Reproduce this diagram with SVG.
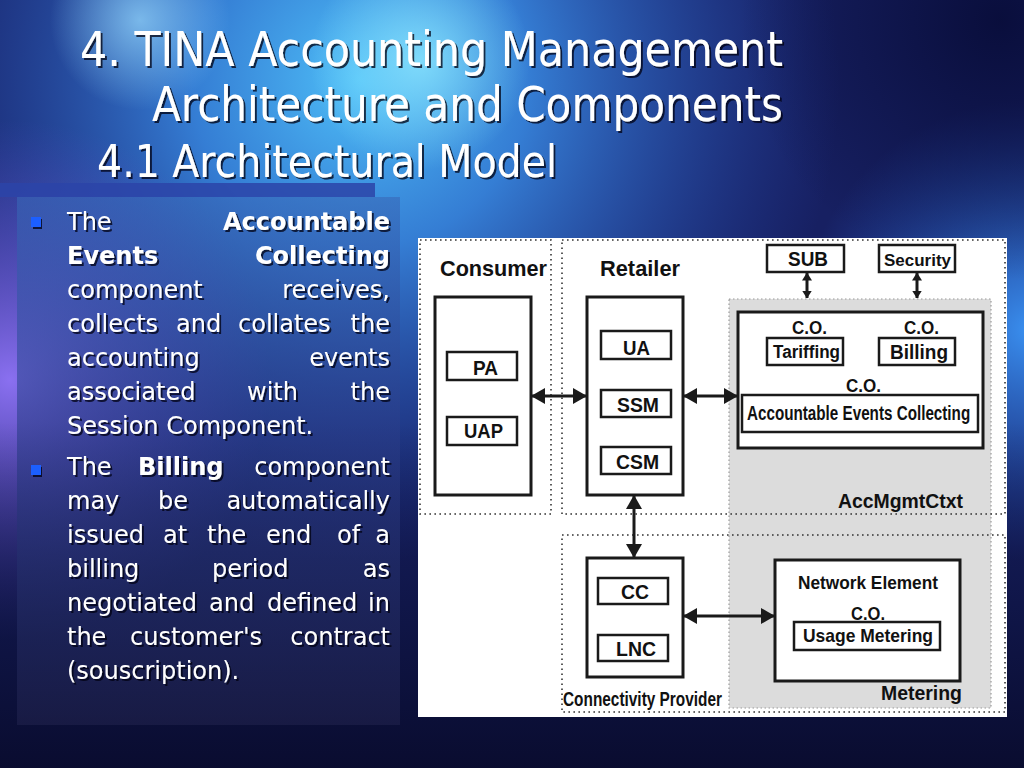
<svg xmlns="http://www.w3.org/2000/svg" width="1024" height="768" viewBox="0 0 1024 768">
<defs>
<radialGradient id="gTitle" cx="360" cy="80" r="480" gradientUnits="userSpaceOnUse">
<stop offset="0" stop-color="#4fc0f8"/>
<stop offset="0.35" stop-color="#3a8ee8" stop-opacity="0.85"/>
<stop offset="1" stop-color="#2a50c0" stop-opacity="0"/>
</radialGradient>
<radialGradient id="gLeft" cx="10" cy="380" r="260" gradientUnits="userSpaceOnUse">
<stop offset="0" stop-color="#8a70f0"/>
<stop offset="1" stop-color="#6050d0" stop-opacity="0"/>
</radialGradient>
<radialGradient id="gRight" cx="1030" cy="330" r="230" gradientUnits="userSpaceOnUse">
<stop offset="0" stop-color="#3a90f0"/>
<stop offset="1" stop-color="#2a60d0" stop-opacity="0"/>
</radialGradient>
<radialGradient id="gDarkTR" cx="1000" cy="20" r="260" gradientUnits="userSpaceOnUse">
<stop offset="0" stop-color="#080c38" stop-opacity="0.9"/>
<stop offset="1" stop-color="#080c38" stop-opacity="0"/>
</radialGradient>
<radialGradient id="gCyan" cx="420" cy="60" r="110" gradientUnits="userSpaceOnUse">
<stop offset="0" stop-color="#8ee8ff" stop-opacity="0.8"/>
<stop offset="1" stop-color="#8ee8ff" stop-opacity="0"/>
</radialGradient>
<radialGradient id="gCyan2" cx="140" cy="20" r="90" gradientUnits="userSpaceOnUse">
<stop offset="0" stop-color="#9adcff" stop-opacity="0.7"/>
<stop offset="1" stop-color="#9adcff" stop-opacity="0"/>
</radialGradient>
<linearGradient id="gBottom" x1="0" y1="0" x2="0" y2="1">
<stop offset="0.55" stop-color="#080c30" stop-opacity="0"/>
<stop offset="1" stop-color="#080a2a" stop-opacity="0.9"/>
</linearGradient>
<linearGradient id="gPanel" x1="0" y1="0" x2="0" y2="1">
<stop offset="0" stop-color="#3868b8" stop-opacity="0.6"/>
<stop offset="0.45" stop-color="#2a3c88" stop-opacity="0.6"/>
<stop offset="1" stop-color="#1c1e48" stop-opacity="0.75"/>
</linearGradient>
<filter id="ts" x="-5%" y="-20%" width="110%" height="140%">
<feDropShadow dx="2" dy="2" stdDeviation="0.6" flood-color="#000010" flood-opacity="0.75"/>
</filter>
<marker id="ah" viewBox="0 0 14 16" refX="13" refY="8" markerWidth="14" markerHeight="16" markerUnits="userSpaceOnUse" orient="auto-start-reverse">
<path d="M0,0 L14,8 L0,16 z" fill="#1a1a1a"/>
</marker>
<marker id="ahs" viewBox="0 0 8 10" refX="7.5" refY="5" markerWidth="8" markerHeight="10" markerUnits="userSpaceOnUse" orient="auto-start-reverse">
<path d="M0,0 L8,5 L0,10 z" fill="#1a1a1a"/>
</marker>
<style>
.title{font-family:"DejaVu Sans Condensed","DejaVu Sans",sans-serif;fill:#ffffff}
.body{font-family:"DejaVu Sans",Verdana,sans-serif;font-size:24px;fill:#ffffff}
.b{font-weight:bold}
.end{text-anchor:end}
.lbl{font-family:"Liberation Sans Narrow","Liberation Sans",Arial,sans-serif;font-weight:bold;fill:#111111}
.box{fill:#ffffff;stroke:#1a1a1a;stroke-width:2.5}
.big{fill:#ffffff;stroke:#1a1a1a;stroke-width:3}
.dot{fill:none;stroke:#333333;stroke-width:1.6;stroke-dasharray:1.6 3.4}
.conn{fill:none;stroke:#1a1a1a;stroke-width:3}
</style>
</defs>

<!-- background -->
<rect x="0" y="0" width="1024" height="768" fill="#172062"/>
<rect x="0" y="0" width="1024" height="768" fill="url(#gTitle)"/>
<rect x="0" y="0" width="1024" height="768" fill="url(#gLeft)"/>
<rect x="0" y="0" width="1024" height="768" fill="url(#gRight)"/>
<rect x="0" y="0" width="1024" height="768" fill="url(#gDarkTR)"/>
<rect x="0" y="0" width="1024" height="768" fill="url(#gCyan)"/>
<rect x="0" y="0" width="1024" height="768" fill="url(#gCyan2)"/>
<rect x="0" y="0" width="1024" height="768" fill="url(#gBottom)"/>

<!-- title -->
<g id="title" class="title" filter="url(#ts)">
<text x="80" y="66" font-size="48" textLength="703" lengthAdjust="spacingAndGlyphs">4. TINA Accounting Management</text>
<text x="152" y="121" font-size="48" textLength="631" lengthAdjust="spacingAndGlyphs">Architecture and Components</text>
<text x="97" y="177" font-size="44" textLength="460" lengthAdjust="spacingAndGlyphs">4.1 Architectural Model</text>
</g>

<!-- left text panel -->
<rect x="0" y="183" width="375" height="14" fill="#2c44a8" opacity="0.85"/>
<rect x="17" y="197" width="383" height="528" fill="url(#gPanel)"/>

<g id="bullets">
<rect x="31" y="217" width="10" height="10" fill="#1f5fff" filter="url(#ts)"/>
<rect x="31" y="465" width="10" height="10" fill="#1f5fff" filter="url(#ts)"/>
</g>

<g id="body-text" class="body" filter="url(#ts)">
<text x="67" y="230">The</text><text x="390" y="230" class="b end">Accountable</text>
<text x="67" y="264" class="b">Events</text><text x="390" y="264" class="b end">Collecting</text>
<text x="67" y="298">component</text><text x="390" y="298" class="end">receives,</text>
<text x="67" y="332">collects</text><text x="176" y="332">and</text><text x="238" y="332">collates</text><text x="390" y="332" class="end">the</text>
<text x="67" y="366">accounting</text><text x="390" y="366" class="end">events</text>
<text x="67" y="400">associated</text><text x="247" y="400">with</text><text x="390" y="400" class="end">the</text>
<text x="67" y="434">Session Component.</text>

<text x="67" y="475">The</text><text x="138" y="475" class="b">Billing</text><text x="390" y="475" class="end">component</text>
<text x="67" y="509">may</text><text x="158" y="509">be</text><text x="390" y="509" class="end">automatically</text>
<text x="67" y="543">issued</text><text x="163" y="543">at</text><text x="207" y="543">the</text><text x="266" y="543">end</text><text x="337" y="543">of</text><text x="390" y="543" class="end">a</text>
<text x="67" y="577">billing</text><text x="212" y="577">period</text><text x="390" y="577" class="end">as</text>
<text x="67" y="611">negotiated</text><text x="209" y="611">and</text><text x="267" y="611">defined</text><text x="390" y="611" class="end">in</text>
<text x="67" y="645">the</text><text x="130" y="645">customer's</text><text x="390" y="645" class="end">contract</text>
<text x="67" y="679">(souscription).</text>
</g>

<!-- diagram panel -->
<rect x="418" y="238" width="589" height="479" fill="#ffffff"/>

<g id="regions">
<rect id="accmgmtctxt-area" x="729" y="299" width="262" height="409" fill="#dcdcdc" stroke="#9a9a9a" stroke-width="1.2" stroke-dasharray="1.5 2.5"/>
<path class="dot" d="M420,240 H551 V514 H420 Z"/>
<path class="dot" d="M562,240 H1005 V514 H562 Z"/>
<path class="dot" d="M562,535 H1005 V712 H562 Z"/>
</g>

<g id="consumer">
<text class="lbl" x="440" y="276" font-size="22" textLength="107" lengthAdjust="spacingAndGlyphs">Consumer</text>
<rect class="big" x="435" y="297" width="96" height="198"/>
</g>
<g id="pa"><rect class="box" x="447" y="352" width="70" height="28"/><text class="lbl" x="473" y="375" font-size="21" textLength="25" lengthAdjust="spacingAndGlyphs">PA</text></g>
<g id="uap"><rect class="box" x="447" y="417" width="70" height="28"/><text class="lbl" x="464" y="438" font-size="21" textLength="39" lengthAdjust="spacingAndGlyphs">UAP</text></g>

<g id="retailer">
<text class="lbl" x="600" y="276" font-size="22" textLength="80" lengthAdjust="spacingAndGlyphs">Retailer</text>
<rect class="big" x="587" y="297" width="96" height="198"/>
</g>
<g id="ua"><rect class="box" x="601" y="331" width="70" height="28"/><text class="lbl" x="623" y="355" font-size="21" textLength="27" lengthAdjust="spacingAndGlyphs">UA</text></g>
<g id="ssm"><rect class="box" x="601" y="390" width="70" height="27"/><text class="lbl" x="617" y="412" font-size="21" textLength="42" lengthAdjust="spacingAndGlyphs">SSM</text></g>
<g id="csm"><rect class="box" x="601" y="447" width="70" height="27"/><text class="lbl" x="616" y="469" font-size="21" textLength="43" lengthAdjust="spacingAndGlyphs">CSM</text></g>

<g id="sub"><rect class="box" x="767" y="245" width="77" height="27"/><text class="lbl" x="788" y="266" font-size="21" textLength="40" lengthAdjust="spacingAndGlyphs">SUB</text></g>
<g id="security"><rect class="box" x="879" y="245" width="76" height="27"/><text class="lbl" x="884" y="266" font-size="17" textLength="67" lengthAdjust="spacingAndGlyphs">Security</text></g>

<g id="accmgmt">
<rect class="big" x="738" y="312" width="245" height="136"/>
<text class="lbl" x="792" y="334" font-size="18" textLength="35" lengthAdjust="spacingAndGlyphs">C.O.</text>
<text class="lbl" x="904" y="334" font-size="18" textLength="35" lengthAdjust="spacingAndGlyphs">C.O.</text>
<text class="lbl" x="846" y="392" font-size="18" textLength="35" lengthAdjust="spacingAndGlyphs">C.O.</text>
<text class="lbl" x="838" y="508" font-size="20" textLength="125" lengthAdjust="spacingAndGlyphs">AccMgmtCtxt</text>
</g>
<g id="tariffing"><rect class="box" x="767" y="338" width="76" height="27"/><text class="lbl" x="773" y="358" font-size="18" textLength="67" lengthAdjust="spacingAndGlyphs">Tariffing</text></g>
<g id="billing"><rect class="box" x="879" y="338" width="76" height="27"/><text class="lbl" x="890" y="359" font-size="21" textLength="58" lengthAdjust="spacingAndGlyphs">Billing</text></g>
<g id="aec"><rect class="box" x="742" y="395" width="236" height="37"/><text class="lbl" transform="translate(747,420) scale(0.725,1)" x="0" y="0" font-size="21">Accountable Events Collecting</text></g>

<g id="connectivity-provider">
<rect class="big" x="587" y="558" width="96" height="119"/>
<text class="lbl" x="563" y="706" font-size="21" textLength="159" lengthAdjust="spacingAndGlyphs">Connectivity Provider</text>
</g>
<g id="cc"><rect class="box" x="598" y="578" width="70" height="26"/><text class="lbl" x="621" y="599" font-size="21" textLength="28" lengthAdjust="spacingAndGlyphs">CC</text></g>
<g id="lnc"><rect class="box" x="598" y="635" width="70" height="26"/><text class="lbl" x="616" y="656" font-size="21" textLength="40" lengthAdjust="spacingAndGlyphs">LNC</text></g>

<g id="network-element">
<rect class="big" x="775" y="560" width="185" height="121"/>
<text class="lbl" x="798" y="589" font-size="19" textLength="140" lengthAdjust="spacingAndGlyphs">Network Element</text>
<text class="lbl" x="851" y="620" font-size="19" textLength="34" lengthAdjust="spacingAndGlyphs">C.O.</text>
<text class="lbl" x="881" y="700" font-size="21" textLength="81" lengthAdjust="spacingAndGlyphs">Metering</text>
</g>
<g id="usage-metering"><rect class="box" x="794" y="622" width="146" height="28"/><text class="lbl" x="803" y="642" font-size="19" textLength="130" lengthAdjust="spacingAndGlyphs">Usage Metering</text></g>

<g id="connectors">
<path class="conn" d="M532,396 H586" marker-start="url(#ah)" marker-end="url(#ah)"/>
<path class="conn" d="M684,396 H737" marker-start="url(#ah)" marker-end="url(#ah)"/>
<path class="conn" d="M634,496 V557" marker-start="url(#ah)" marker-end="url(#ah)"/>
<path class="conn" d="M684,616 H774" marker-start="url(#ah)" marker-end="url(#ah)"/>
<path class="conn" d="M807,273 V298" stroke-width="2" marker-start="url(#ahs)" marker-end="url(#ahs)"/>
<path class="conn" d="M917,273 V298" stroke-width="2" marker-start="url(#ahs)" marker-end="url(#ahs)"/>
</g>
</svg>
